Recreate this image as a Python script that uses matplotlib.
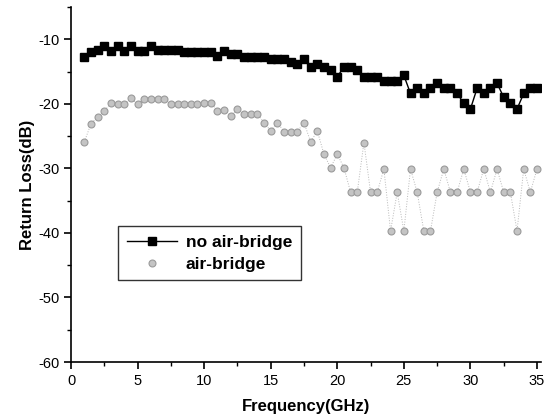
import numpy as np
import matplotlib
matplotlib.use("Agg")
import matplotlib.pyplot as plt
from matplotlib.ticker import MultipleLocator
from matplotlib.lines import Line2D

plt.rcParams['font.family'] = ['Liberation Sans', 'DejaVu Sans']

freq = np.arange(1.0, 35.01, 0.5)

no_air_bridge = [
    -12.7, -12.0, -11.7, -11.0, -11.8, -11.0, -11.8, -11.0, -11.8, -11.8,
    -11.1, -11.7, -11.7, -11.7, -11.7, -12.0, -12.0, -12.0, -12.0, -12.0,
    -12.6, -11.8, -12.3, -12.3, -12.7, -12.7, -12.7, -12.7, -13.1, -13.1,
    -13.1, -13.5, -13.9, -13.0, -14.3, -13.8, -14.3, -14.7, -15.8, -14.3,
    -14.3, -14.8, -15.8, -15.8, -15.8, -16.4, -16.4, -16.4, -15.6, -18.4,
    -17.6, -18.4, -17.6, -16.8, -17.6, -17.6, -18.4, -19.9, -20.8, -17.6,
    -18.4, -17.6, -16.8, -19.0, -19.9, -20.8, -18.4, -17.6, -17.6,
]

air_bridge = [
    -25.9, -23.1, -22.0, -21.1, -19.9, -20.0, -20.0, -19.1, -20.1, -19.2,
    -19.2, -19.2, -19.2, -20.1, -20.1, -20.1, -20.0, -20.0, -19.8, -19.8,
    -21.1, -21.0, -21.9, -20.8, -21.6, -21.6, -21.6, -22.9, -24.2, -22.9,
    -24.3, -24.3, -24.3, -22.9, -25.9, -24.2, -27.8, -29.9, -27.8, -29.9,
    -33.7, -33.7, -26.0, -33.7, -33.7, -30.1, -39.7, -33.7, -39.7, -30.1,
    -33.7, -39.7, -39.7, -33.7, -30.1, -33.7, -33.7, -30.1, -33.7, -33.7,
    -30.1, -33.7, -30.1, -33.7, -33.7, -39.7, -30.1, -33.7, -30.1,
]

x_ticks = [0, 5, 10, 15, 20, 25, 30, 35]
y_ticks = [-60, -50, -40, -30, -20, -10]

fig = plt.figure(figsize=(5.45, 4.18), dpi=100)
ax = fig.add_axes([71/545, 1 - 362/418, (541-71)/545, (362-7)/418])

gray_face = '#c4c4c4'
gray_edge = '#9a9a9a'

ax.plot(freq, no_air_bridge, color='black', lw=1.0, marker='s', ms=5.5,
        mfc='black', mec='black')
ax.plot(freq, air_bridge, color='#b8b8b8', lw=0.7, ls=':', marker='o', ms=5,
        mfc=gray_face, mec=gray_edge, mew=0.8)

ax.set_xlim(0, 35.3)
ax.set_ylim(-60, -5)
ax.set_xticks(x_ticks)
ax.set_yticks(y_ticks)
ax.set_xticklabels([str(t) for t in x_ticks])
ax.set_yticklabels([str(t) for t in y_ticks])
ax.xaxis.set_minor_locator(MultipleLocator(2.5))
ax.yaxis.set_minor_locator(MultipleLocator(5))

for s in ['top', 'right']:
    ax.spines[s].set_visible(False)
for s in ['left', 'bottom']:
    ax.spines[s].set_linewidth(1.2)

ax.tick_params(which='major', direction='out', length=5, width=1.2, labelsize=10.5)
ax.tick_params(which='minor', direction='out', length=3, width=1.0)

ax.set_xlabel('Frequency(GHz)', fontsize=12, fontweight='bold', labelpad=8)
ax.set_ylabel('Return Loss(dB)', fontsize=12, fontweight='bold', labelpad=2)

handles = [
    Line2D([], [], color='black', lw=1.0, marker='s', ms=5.5, mfc='black', mec='black'),
    Line2D([], [], ls='none', marker='o', ms=5, mfc=gray_face, mec=gray_edge, mew=0.8),
]
leg = ax.legend(handles, ['no air-bridge', 'air-bridge'], loc='upper left',
                bbox_to_anchor=(0.1, 0.383), borderaxespad=0, frameon=True,
                fancybox=False, edgecolor='black',
                prop={'weight': 'bold', 'size': 12.5}, handlelength=2.9,
                borderpad=0.5, labelspacing=0.38, handletextpad=0.5)
leg.get_frame().set_linewidth(1.0)

fig.savefig('out.png', dpi=100)
